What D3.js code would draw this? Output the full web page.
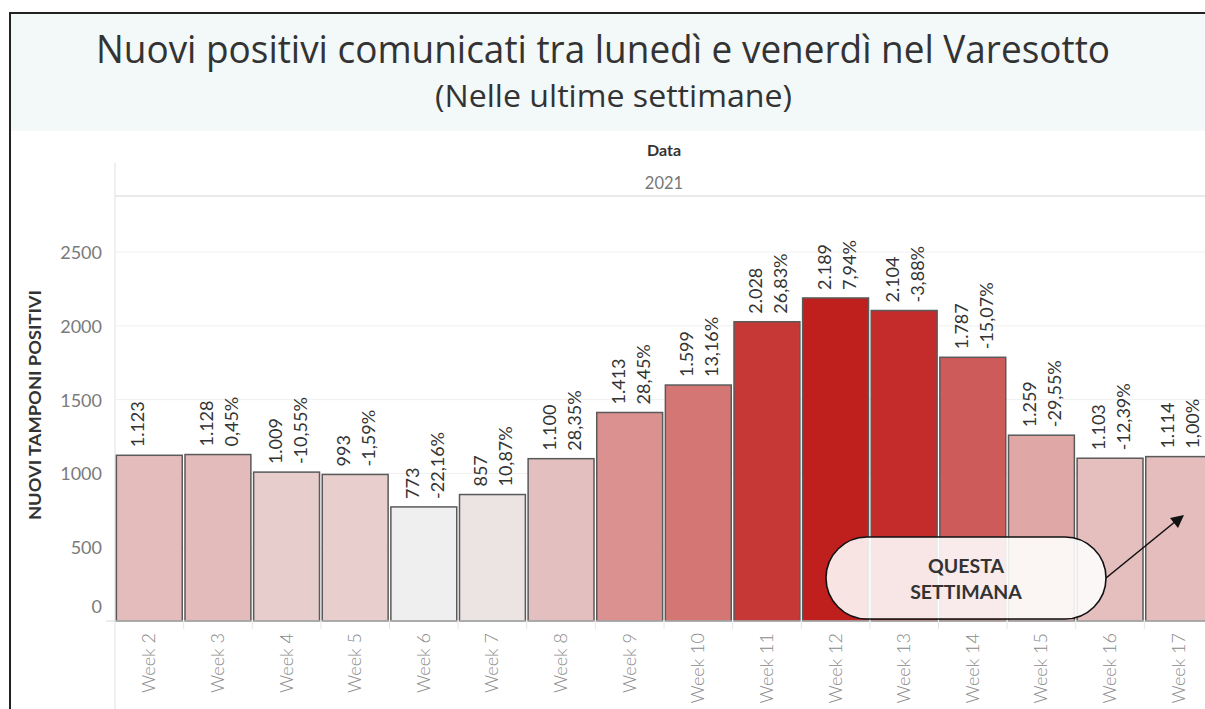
<!DOCTYPE html>
<html>
<head>
<meta charset="utf-8">
<script src="https://cdn.jsdelivr.net/npm/d3@7"></script>
<style>
  body { margin: 0; background: #fff; }
  svg { display: block; }
</style>
</head>
<body>
<div id="chart"></div>
<script>
var weeks = ["Week 2", "Week 3", "Week 4", "Week 5", "Week 6", "Week 7", "Week 8", "Week 9",
             "Week 10", "Week 11", "Week 12", "Week 13", "Week 14", "Week 15", "Week 16", "Week 17"];
var positives = [1123, 1128, 1009, 993, 773, 857, 1100, 1413, 1599, 2028, 2189, 2104, 1787, 1259, 1103, 1114];
var changes = [null, 0.45, -10.55, -1.59, -22.16, 10.87, 28.35, 28.45, 13.16, 26.83, 7.94, -3.88, -15.07, -29.55, -12.39, 1.00];
var yTicks = [0, 500, 1000, 1500, 2000, 2500];

(function() {
  var W = 1205, H = 709;
  var it = d3.formatLocale({decimal: ",", thousands: ".", grouping: [3], currency: ["€", ""], minus: "-"});
  var fmtVal = it.format(",d"),
      fmtPct = function(v) { return it.format(".2f")(v) + "%"; };

  var svg = d3.select("#chart").append("svg")
      .attr("width", W).attr("height", H);

  // title panel
  svg.append("rect").attr("x", 10).attr("y", 13).attr("width", W - 10).attr("height", 118)
      .attr("fill", "#f3f8f8");
  svg.append("line").attr("x1", 10).attr("x2", W).attr("y1", 13).attr("y2", 13)
      .attr("stroke", "#222").attr("stroke-width", 2);
  svg.append("line").attr("x1", 10).attr("x2", 10).attr("y1", 12).attr("y2", H)
      .attr("stroke", "#222").attr("stroke-width", 2);

  svg.append("text").attr("x", 96).attr("y", 63)
      .attr("textLength", 1014).attr("lengthAdjust", "spacingAndGlyphs")
      .style("font-family", "'Open Sans', sans-serif").style("font-size", "38px")
      .attr("fill", "#333").text("Nuovi positivi comunicati tra lunedì e venerdì nel Varesotto");
  svg.append("text").attr("x", 435).attr("y", 107)
      .attr("textLength", 357).attr("lengthAdjust", "spacingAndGlyphs")
      .style("font-family", "'Open Sans', sans-serif").style("font-size", "31px")
      .attr("fill", "#333").text("(Nelle ultime settimane)");

  var x = d3.scaleBand().domain(weeks).range([115, 1213]).paddingInner(0.04).paddingOuter(0.02),
      y = d3.scaleLinear().domain([0, 2880]).range([621, 196]);

  var color = d3.scaleLinear()
      .domain([d3.min(positives), d3.max(positives)])
      .range(["#efefef", "#c0201d"]);

  var plotRight = 1213, plotMid = (115 + plotRight) / 2;

  // headers
  svg.append("text").attr("x", plotMid).attr("y", 156).attr("text-anchor", "middle")
      .style("font-family", "Lato, sans-serif").style("font-size", "16px").style("font-weight", "bold")
      .attr("fill", "#333").text("Data");
  svg.append("text").attr("x", plotMid).attr("y", 189).attr("text-anchor", "middle")
      .style("font-family", "Lato, sans-serif").style("font-size", "16.5px")
      .attr("fill", "#777").text("2021");

  svg.append("line").attr("x1", 115).attr("x2", W).attr("y1", 196).attr("y2", 196)
      .attr("stroke", "#d6d6d6");
  svg.append("line").attr("x1", 115).attr("x2", 115).attr("y1", 163).attr("y2", H)
      .attr("stroke", "#e0e0e0");

  // gridlines
  svg.append("g").selectAll("line").data(yTicks.slice(1)).enter().append("line")
      .attr("x1", 115).attr("x2", W)
      .attr("y1", function(d) { return y(d); }).attr("y2", function(d) { return y(d); })
      .attr("stroke", "#f0f0f0");

  // y axis labels
  svg.append("g").selectAll("text").data(yTicks).enter().append("text")
      .attr("x", 102)
      .attr("y", function(d) { return d === 0 ? y(d) - 8 : y(d) + 7; })
      .attr("text-anchor", "end")
      .style("font-family", "Lato, sans-serif").style("font-size", "18px")
      .attr("fill", "#7a7a7a").text(function(d) { return d; });

  svg.append("text")
      .attr("transform", "translate(41,405) rotate(-90)")
      .attr("text-anchor", "middle")
      .attr("textLength", 230).attr("lengthAdjust", "spacingAndGlyphs")
      .style("font-family", "Lato, sans-serif").style("font-size", "17px").style("font-weight", "bold")
      .attr("fill", "#333").text("NUOVI TAMPONI POSITIVI");

  // bars
  svg.append("g").selectAll("rect").data(weeks).enter().append("rect")
      .attr("x", function(d) { return x(d); })
      .attr("y", function(d, i) { return y(positives[i]); })
      .attr("width", x.bandwidth())
      .attr("height", function(d, i) { return y(0) - y(positives[i]); })
      .attr("fill", function(d, i) { return color(positives[i]); })
      .attr("stroke", "#5a5a5a").attr("stroke-width", 1.5);

  // baseline and x ticks
  svg.append("line").attr("x1", 106).attr("x2", W).attr("y1", y(0)).attr("y2", y(0))
      .attr("stroke", "#d8d8d8");
  svg.append("g").selectAll("line").data(weeks.slice(1)).enter().append("line")
      .attr("x1", function(d) { return x(d) - x.step() * x.paddingInner() / 2; })
      .attr("x2", function(d) { return x(d) - x.step() * x.paddingInner() / 2; })
      .attr("y1", y(0)).attr("y2", y(0) + 8)
      .attr("stroke", "#e6e6e6");

  // week labels
  svg.append("g").selectAll("text").data(weeks).enter().append("text")
      .attr("transform", function(d) {
        return "translate(" + (x(d) + x.bandwidth() / 2 + 6) + "," + (y(0) + 12) + ") rotate(-90)";
      })
      .attr("text-anchor", "end")
      .style("font-family", "Lato, sans-serif").style("font-size", "18px").style("font-weight", "300")
      .attr("fill", "#8a8a8a").text(function(d) { return d; });

  // bar value labels
  var lbl = svg.append("g").selectAll("g").data(weeks).enter().append("g")
      .attr("transform", function(d, i) {
        return "translate(" + (x(d) + x.bandwidth() / 2) + "," + (y(positives[i]) - 8) + ") rotate(-90)";
      })
      .style("font-family", "Lato, sans-serif").style("font-size", "18px").attr("fill", "#333");
  lbl.append("text").attr("x", 0).attr("y", -5)
      .text(function(d, i) { return fmtVal(positives[i]); });
  lbl.append("text").attr("x", 0).attr("y", 20)
      .text(function(d, i) { return changes[i] === null ? "" : fmtPct(changes[i]); });

  // annotation
  var ann = svg.append("g");
  ann.append("line").attr("x1", 1106).attr("y1", 578).attr("x2", 1176).attr("y2", 521)
      .attr("stroke", "#111").attr("stroke-width", 1.6);
  ann.append("path").attr("d", "M1184,515 L1170,518 L1178,528 Z").attr("fill", "#111");
  ann.append("rect").attr("x", 826).attr("y", 537).attr("width", 280).attr("height", 82)
      .attr("rx", 41).attr("ry", 41)
      .attr("fill", "#fff").attr("fill-opacity", 0.88)
      .attr("stroke", "#111").attr("stroke-width", 1.6);
  ann.append("text").attr("x", 966).attr("y", 573).attr("text-anchor", "middle")
      .style("font-family", "Lato, sans-serif").style("font-size", "19.5px").style("font-weight", "bold")
      .attr("fill", "#333").text("QUESTA");
  ann.append("text").attr("x", 966).attr("y", 599).attr("text-anchor", "middle")
      .style("font-family", "Lato, sans-serif").style("font-size", "19.5px").style("font-weight", "bold")
      .attr("fill", "#333").text("SETTIMANA");
})();
</script>
</body>
</html>
